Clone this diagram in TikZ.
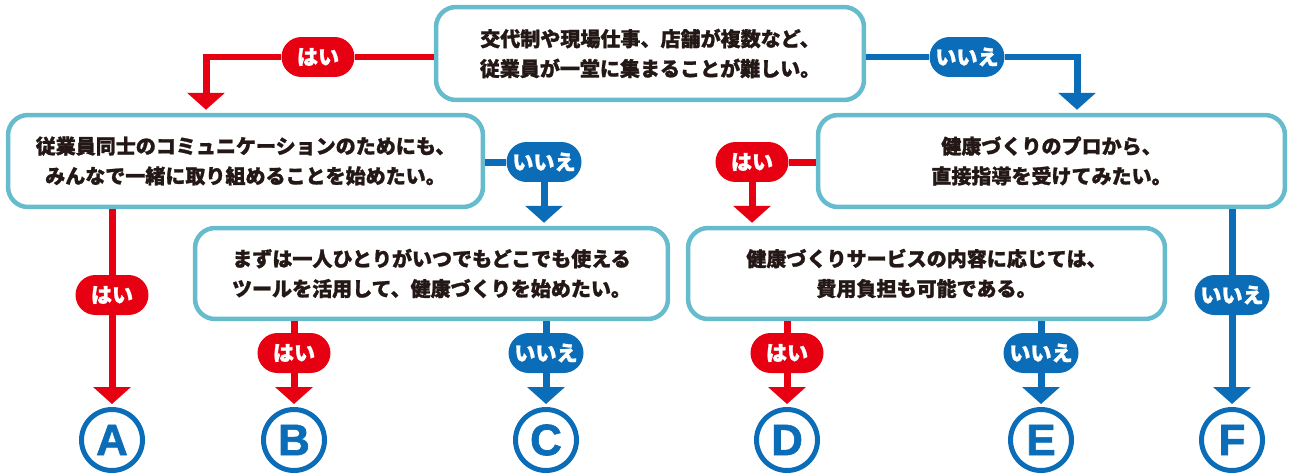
\documentclass[tikz,border=0pt]{standalone}
\usepackage{fontspec}
\newfontfamily\jpfont{Noto Sans CJK JP}[BoldFeatures={FakeBold=1.2}]
\setsansfont{Liberation Sans}[BoldFeatures={FakeBold=1.5}]
\usetikzlibrary{arrows.meta}
\definecolor{yesred}{HTML}{E60012}
\definecolor{noblue}{HTML}{0B6DB7}
\definecolor{boxteal}{HTML}{66BCCC}
\definecolor{inkdark}{HTML}{231815}

\begin{document}
\begin{tikzpicture}[
  x=0.02cm, y=-0.02cm,
  question/.style={rectangle, draw=boxteal, line width=0.09cm, rounded corners=0.4cm,
                   fill=white, align=center, text=inkdark, inner sep=0pt,
                   minimum height=1.84cm, font=\jpfont\bfseries\fontsize{11.4}{17}\selectfont},
  answer/.style={rectangle, rounded corners=0.4cm, minimum height=0.8cm, text=white,
                 inner sep=0pt, font=\jpfont\bfseries\fontsize{12}{12}\selectfont},
  yestag/.style={answer, fill=yesred, minimum width=1.46cm},
  notag/.style={answer, fill=noblue, minimum width=1.5cm},
  result/.style={circle, draw=noblue, line width=0.1cm, minimum size=1.22cm, inner sep=0pt,
                 text=noblue, font=\sffamily\bfseries\fontsize{25}{25}\selectfont},
  yesline/.style={draw=yesred, line width=0.14cm},
  noline/.style={draw=noblue, line width=0.14cm},
  tip/.style={-{Triangle[length=0.34cm, width=0.74cm]}, shorten >=0.06cm},
]
  \useasboundingbox (0,0) rectangle (1293,473);

  % Questions
  \node[question, minimum width=8.56cm, minimum height=1.86cm] (q1) at (650,53.5)
    {交代制や現場仕事、店舗が複数など、\\従業員が一堂に集まることが難しい。};
  \node[question, minimum width=9.5cm] (q2) at (245.5,161)
    {従業員同士のコミュニケーションのためにも、\\みんなで一緒に取り組めることを始めたい。};
  \node[question, minimum width=9.34cm] (q3) at (1051.5,161)
    {健康づくりのプロから、\\直接指導を受けてみたい。};
  \node[question, minimum width=9.46cm, minimum height=1.82cm] (q4) at (431.5,273.5)
    {まずは一人ひとりがいつでもどこでも使える\\ツールを活用して、健康づくりを始めたい。};
  \node[question, minimum width=9.54cm, minimum height=1.82cm] (q5) at (926.5,273.5)
    {健康づくりサービスの内容に応じては、\\費用負担も可能である。};

  % Results
  \foreach \name/\xpos in {A/112, B/294, C/546, D/787, E/1041, F/1232}
    \node[result] (res\name) at (\xpos,440) {\name};

  % Answer tags
  \node[yestag] (y1) at (318,57)   {はい};
  \node[notag]  (n1) at (967,57)   {いいえ};
  \node[notag]  (n2) at (544,162)  {いいえ};
  \node[yestag] (y3) at (752,162)  {はい};
  \node[yestag] (y2) at (112,295)  {はい};
  \node[notag]  (n3) at (1232,295) {いいえ};
  \node[yestag] (y4) at (294,353)  {はい};
  \node[notag]  (n4) at (546,353)  {いいえ};
  \node[yestag] (y5) at (787,353)  {はい};
  \node[notag]  (n5) at (1041,353) {いいえ};

  \coordinate (cy1) at (206,57);
  \coordinate (cn1) at (1077,57);

  % Top question
  \draw[yesline] (q1.west |- y1) -- (y1);
  \draw[yesline, tip] (y1) -- (cy1) -- (cy1 |- q2.north);
  \draw[noline] (q1.east |- n1) -- (n1);
  \draw[noline, tip] (n1) -- (cn1) -- (cn1 |- q3.north);

  % Second row
  \draw[yesline] (q2.south -| y2) -- (y2);
  \draw[yesline, tip] (y2) -- (resA);
  \draw[noline] (q2.east |- n2) -- (n2);
  \draw[noline, tip] (n2) -- (n2 |- q4.north);
  \draw[yesline] (q3.west |- y3) -- (y3);
  \draw[yesline, tip] (y3) -- (y3 |- q5.north);
  \draw[noline] (q3.south -| n3) -- (n3);
  \draw[noline, tip] (n3) -- (resF);

  % Third row
  \draw[yesline] (q4.south -| y4) -- (y4);
  \draw[yesline, tip] (y4) -- (resB);
  \draw[noline] (q4.south -| n4) -- (n4);
  \draw[noline, tip] (n4) -- (resC);
  \draw[yesline] (q5.south -| y5) -- (y5);
  \draw[yesline, tip] (y5) -- (resD);
  \draw[noline] (q5.south -| n5) -- (n5);
  \draw[noline, tip] (n5) -- (resE);
\end{tikzpicture}
\end{document}
